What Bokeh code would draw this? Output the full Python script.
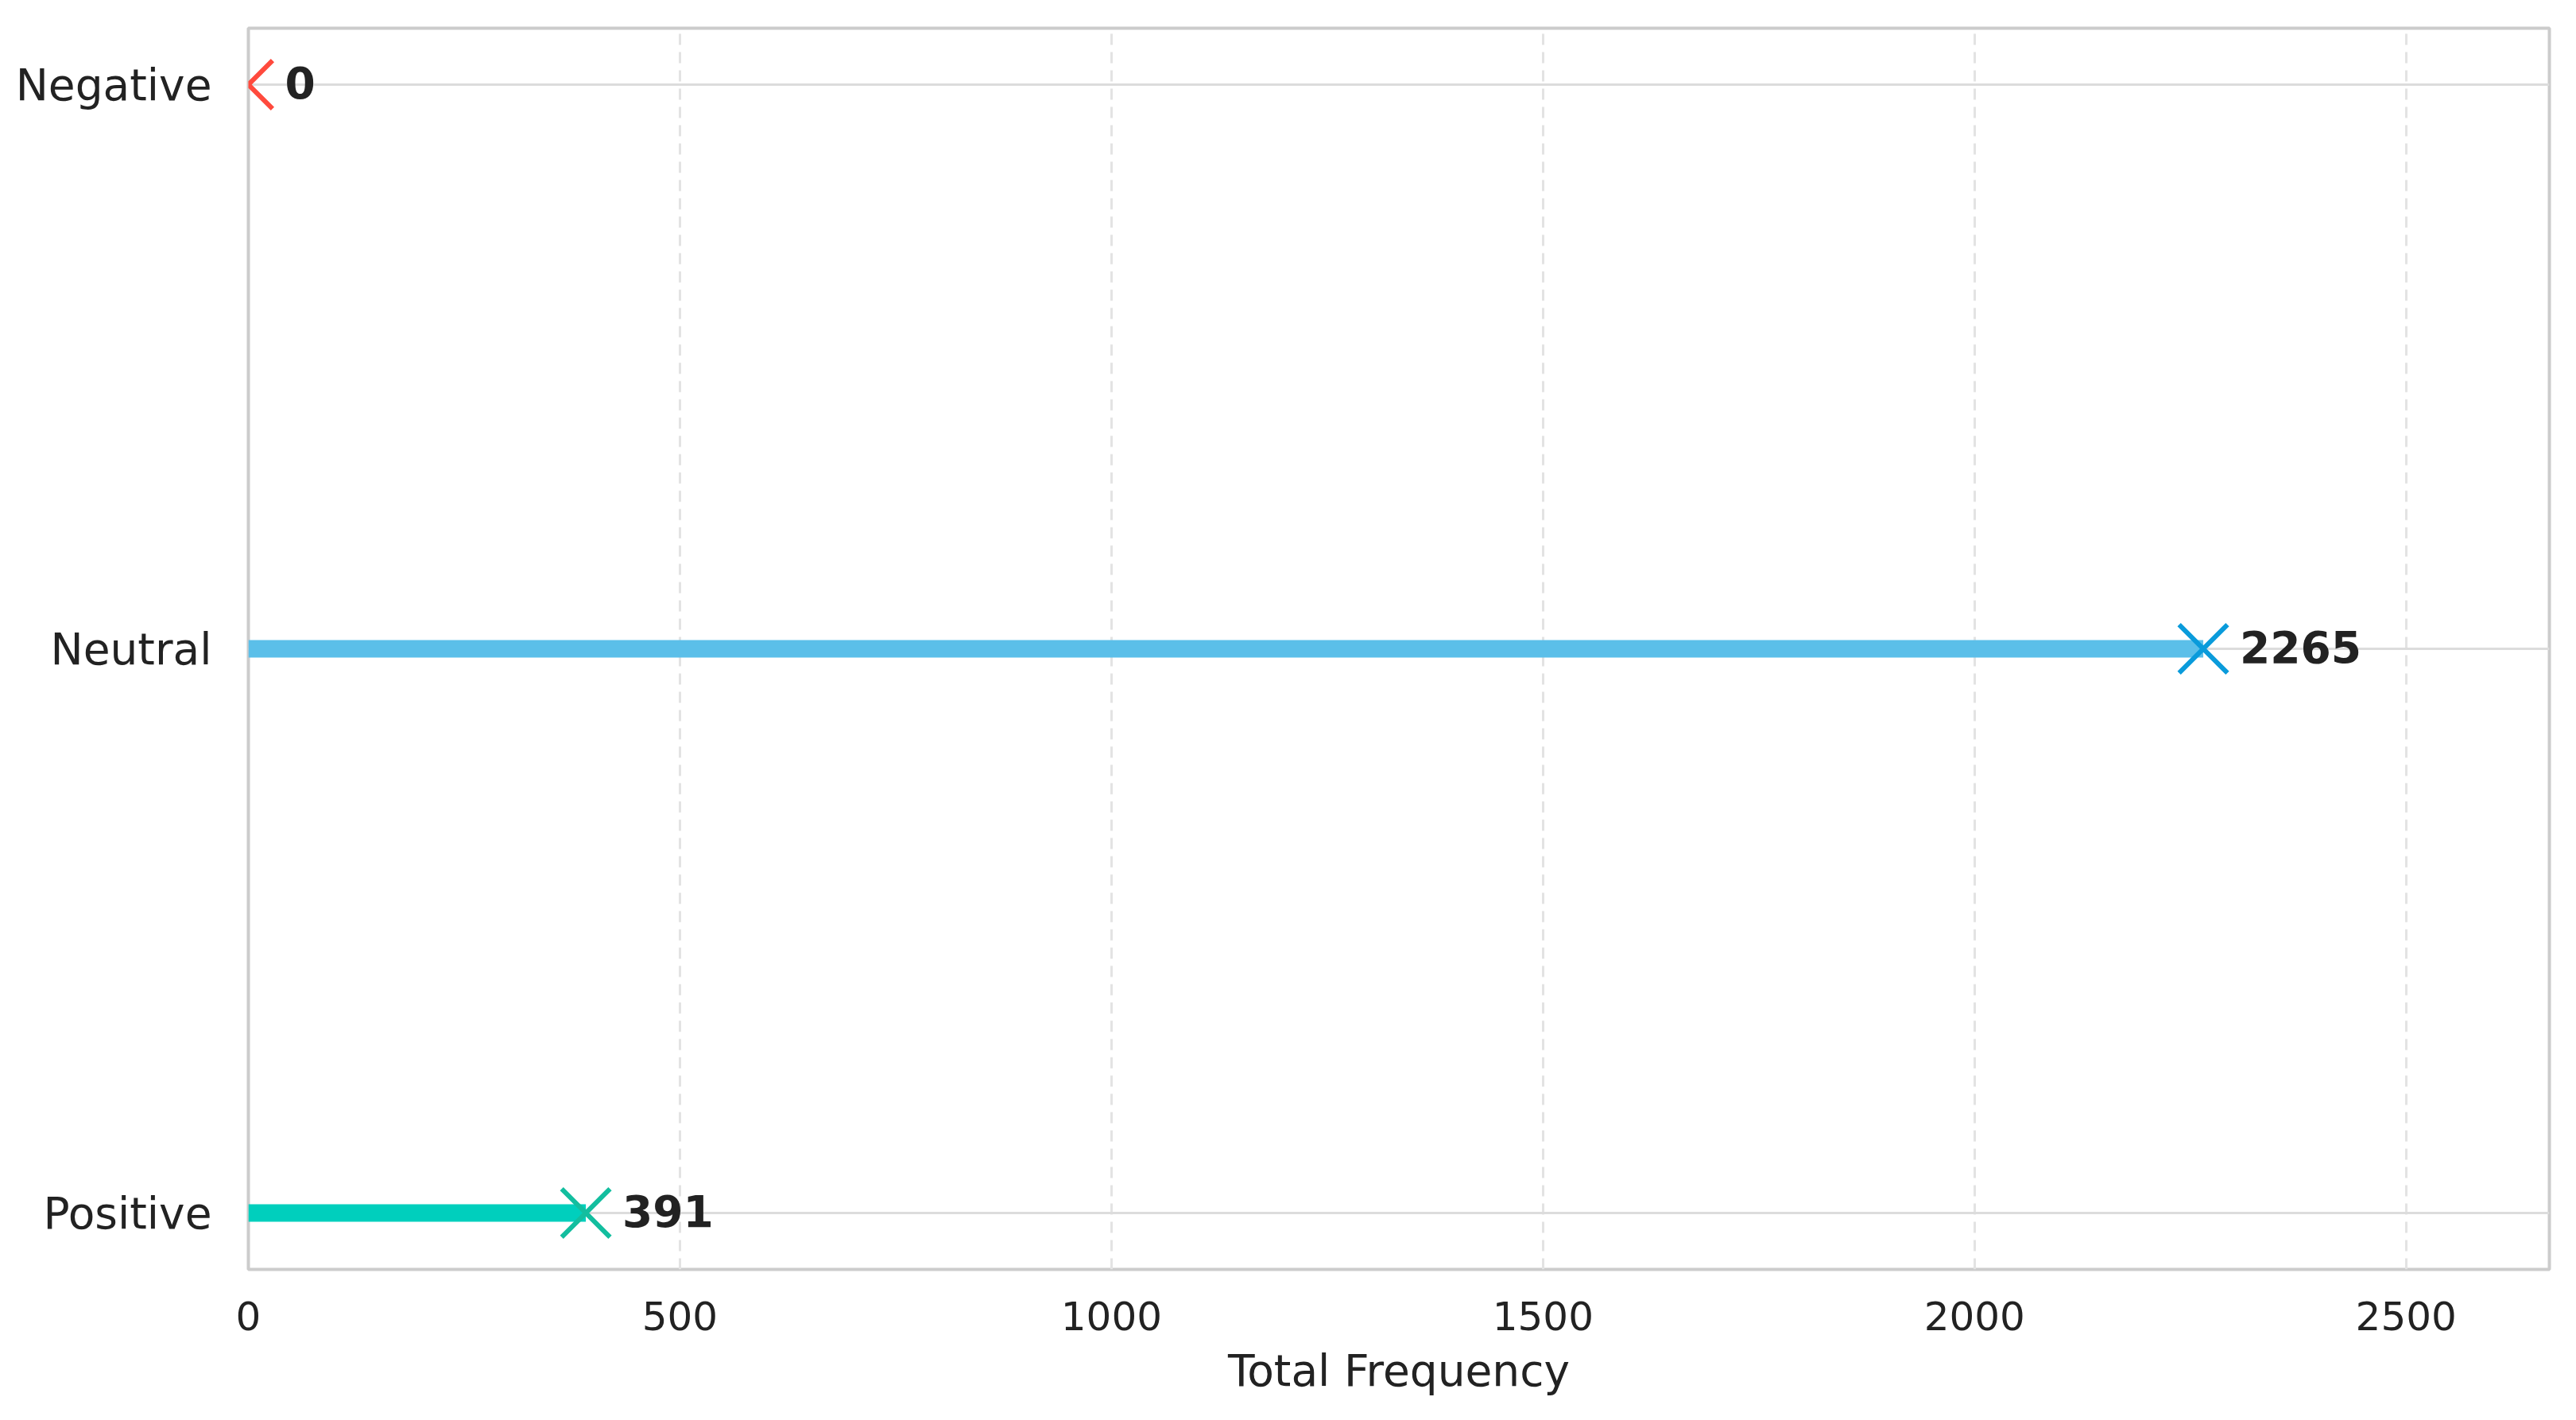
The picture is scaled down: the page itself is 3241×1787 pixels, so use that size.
from bokeh.plotting import figure
from bokeh.models import FixedTicker, ColumnDataSource, Range1d
from bokeh.core.properties import value
from bokeh.embed import file_html
from bokeh.resources import INLINE

categories = ["Negative", "Neutral", "Positive"]
frequencies = [0, 2265, 391]
line_colors = ["#FF4A3D", "#5BBFE9", "#00CFBD"]
marker_colors = ["#FF4A3D", "#0A9BDB", "#13BE9F"]
x_ticks = [0, 500, 1000, 1500, 2000, 2500]

ypos = [len(categories) - 1 - i for i in range(len(categories))]
labels = [str(v) for v in frequencies]

src = ColumnDataSource(dict(y=ypos, x=frequencies, x0=[0] * len(frequencies),
                            lc=line_colors, mc=marker_colors, lab=labels))

W, H = 3233, 1779
p = figure(width=W, height=H, output_backend="svg", toolbar_location=None,
           x_range=Range1d(0, 2666), y_range=Range1d(-0.1, 2.1),
           min_border_left=312, min_border_top=35, min_border_right=26,
           min_border_bottom=182)

p.background_fill_color = "white"
p.border_fill_color = "white"
p.outline_line_color = "#cccccc"
p.outline_line_width = 4

p.xgrid.ticker = FixedTicker(ticks=x_ticks)
p.xgrid.grid_line_color = "#e3e3e3"
p.xgrid.grid_line_width = 3
p.xgrid.grid_line_dash = "14 9"
p.ygrid.ticker = FixedTicker(ticks=ypos)
p.ygrid.grid_line_color = "#dcdcdc"
p.ygrid.grid_line_width = 3

p.segment(x0="x0", y0="y", x1="x", y1="y", source=src, line_color="lc",
          line_width=22, line_alpha=1.0, line_cap="butt")
p.scatter(x="x", y="y", source=src, marker="x", size=86, line_color="mc",
          line_width=6)
p.text(x="x", y="y", text="lab", source=src, x_offset=46, y_offset=-3,
       text_baseline="middle", text_align="left",
       text_font=value("DejaVu Sans"), text_font_style="bold",
       text_font_size="55px", text_color="#222222")

xa = p.xaxis[0]
xa.ticker = FixedTicker(ticks=x_ticks)
xa.axis_label = "Total Frequency"
xa.axis_label_text_font = "DejaVu Sans"
xa.axis_label_text_font_style = "normal"
xa.axis_label_text_font_size = "55px"
xa.axis_label_text_color = "#222222"
xa.axis_label_standoff = 16
xa.major_label_text_font = "DejaVu Sans"
xa.major_label_text_font_size = "50px"
xa.major_label_text_color = "#222222"
xa.major_label_standoff = 34

ya = p.yaxis[0]
ya.ticker = FixedTicker(ticks=ypos)
ya.major_label_overrides = {y: c for y, c in zip(ypos, categories)}
ya.major_label_text_font = "DejaVu Sans"
ya.major_label_text_font_size = "55px"
ya.major_label_text_color = "#222222"
ya.major_label_standoff = 40

for ax in (xa, ya):
    ax.axis_line_color = None
    ax.major_tick_line_color = None
    ax.minor_tick_line_color = None

open("out.html", "w").write(file_html(p, INLINE))
